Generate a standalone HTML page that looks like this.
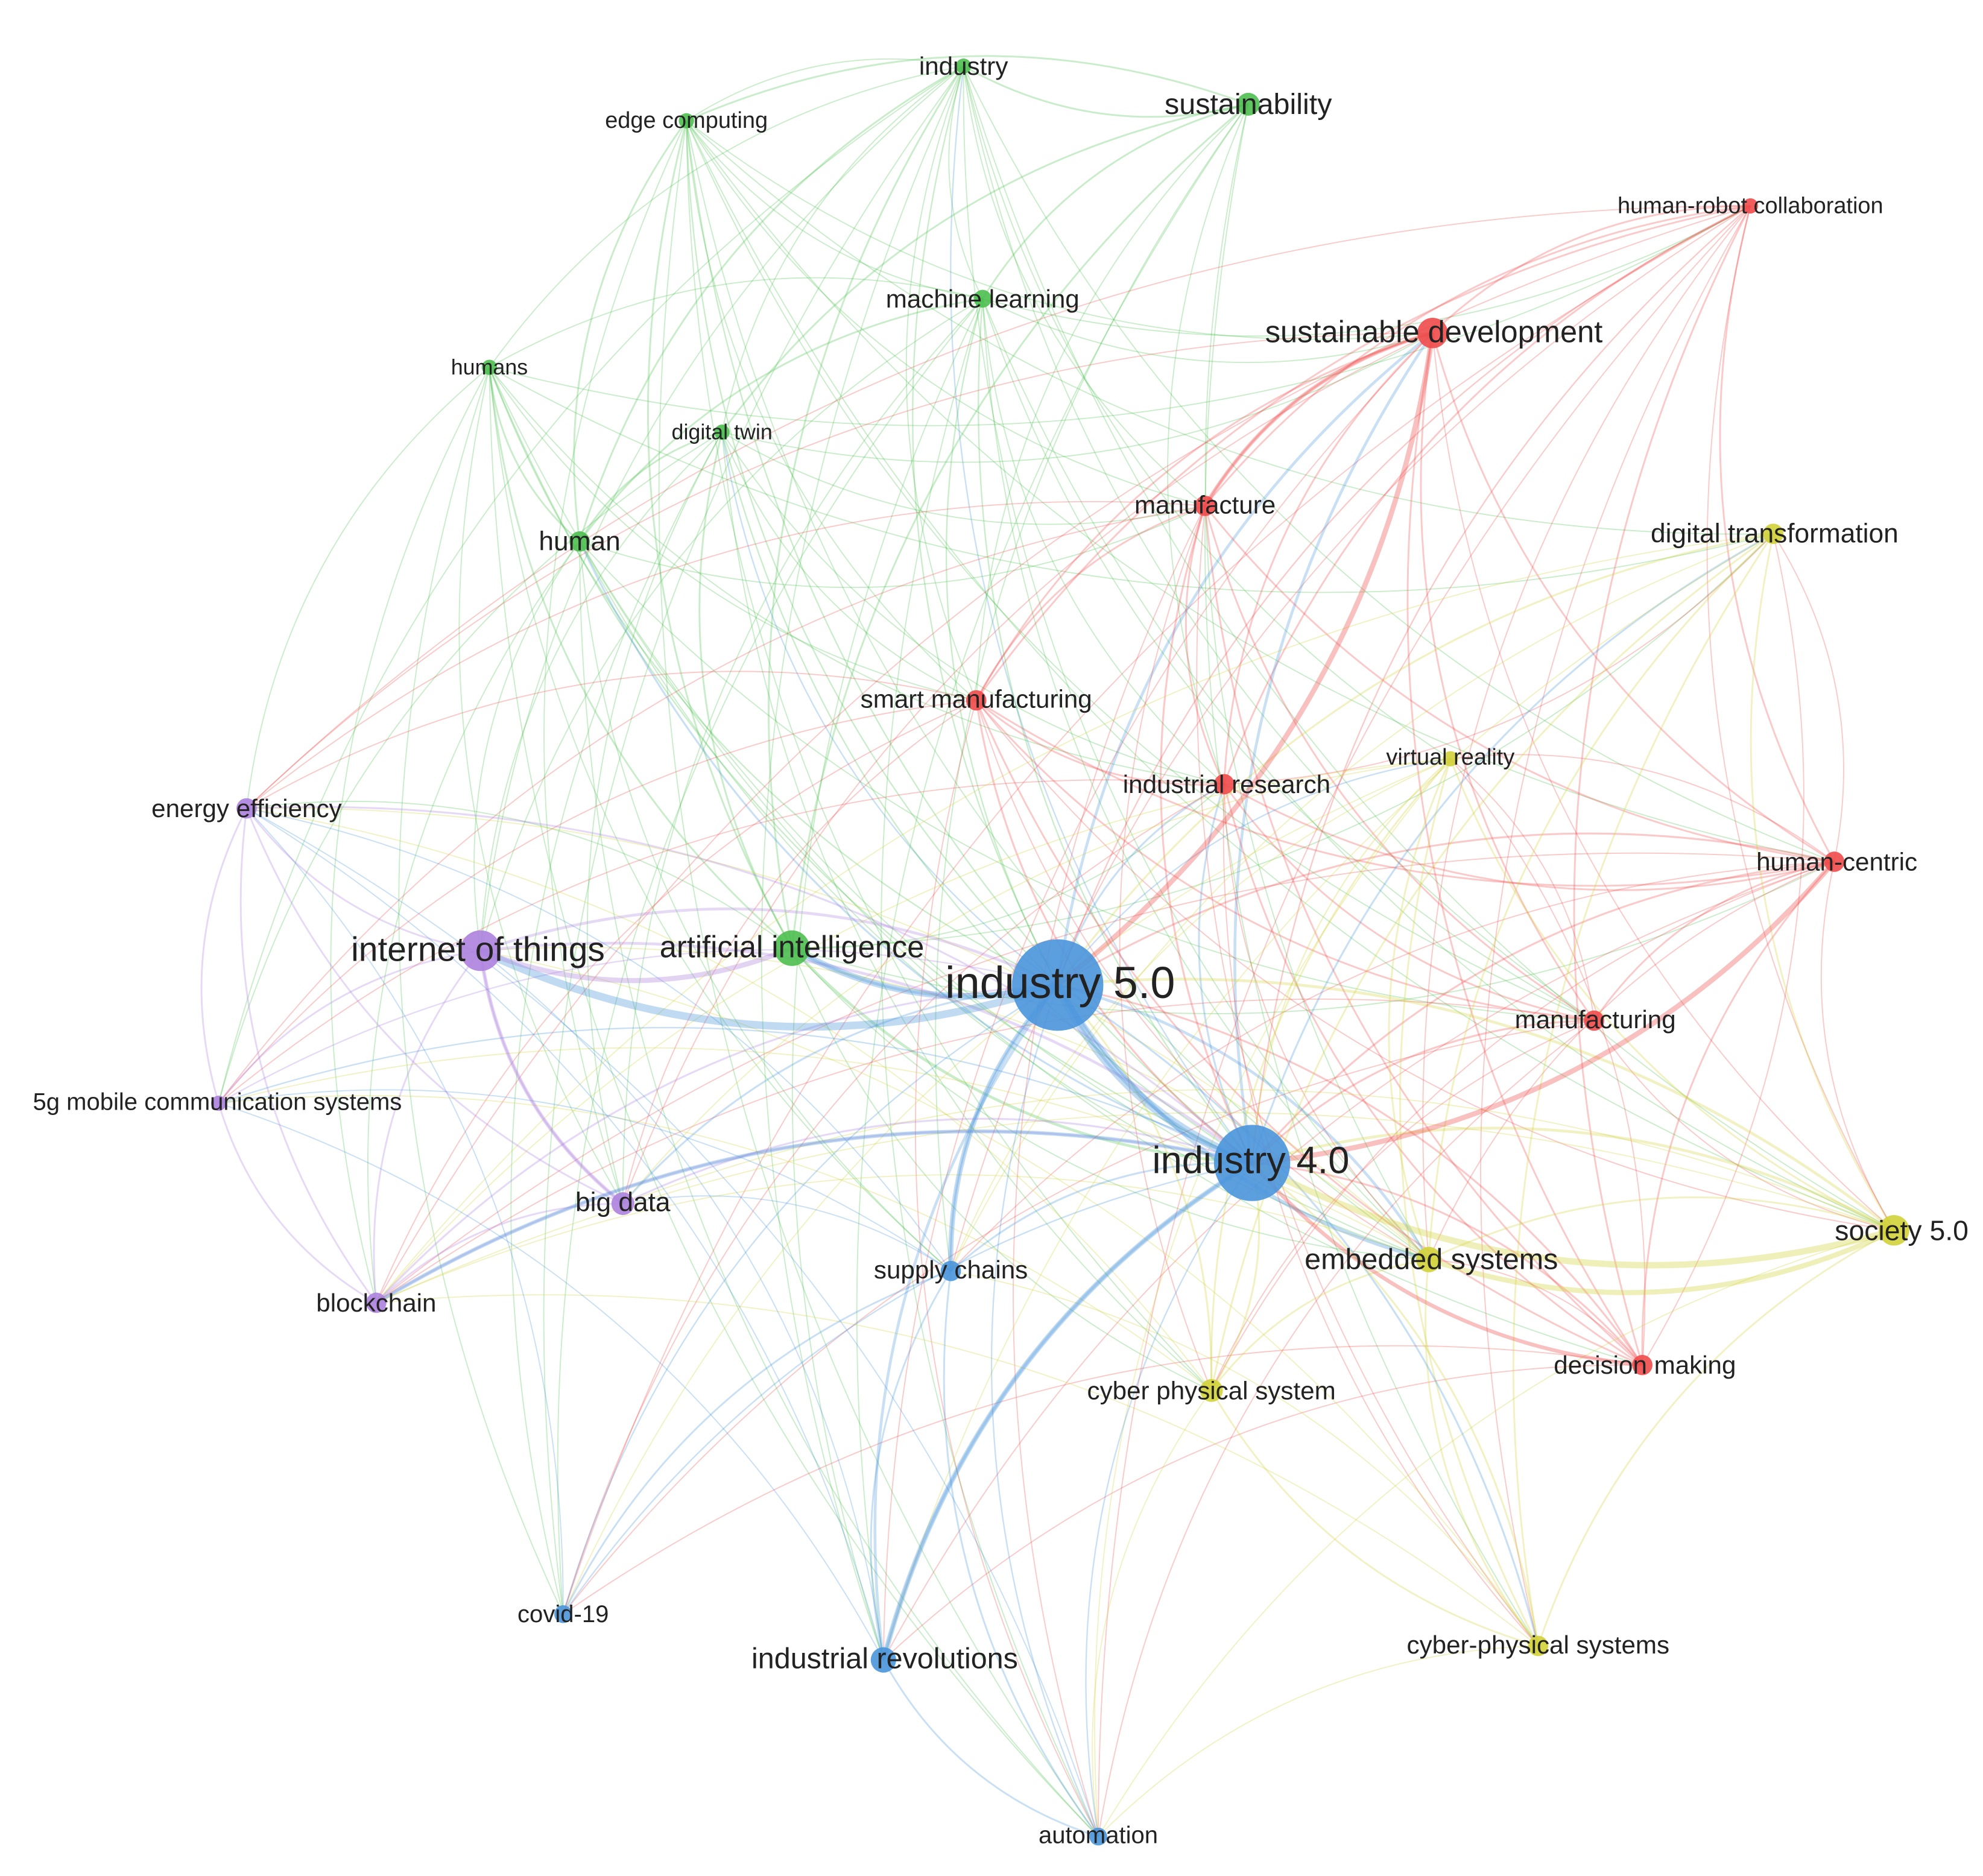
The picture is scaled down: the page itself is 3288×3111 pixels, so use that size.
<!DOCTYPE html>
<html><head><meta charset="utf-8">
<style>
html,body{margin:0;padding:0;background:#fff;}
svg{display:block;}
text{font-family:"Liberation Sans",sans-serif;fill:#222;text-anchor:middle;dominant-baseline:central;}
</style></head>
<body>
<svg id="s" width="3288" height="3111" viewBox="0 0 1560 1476" xmlns="http://www.w3.org/2000/svg">
<rect width="1560" height="1476" fill="#fff"/>
<g id="edges" fill="none"></g>
<g id="nodes"></g>
<g id="labels">
<text x="758" y="52" font-size="20">industry</text>
<text x="982" y="82" font-size="23">sustainability</text>
<text x="540" y="95" font-size="18">edge computing</text>
<text x="773" y="235" font-size="20">machine learning</text>
<text x="385" y="289" font-size="17">humans</text>
<text x="568" y="340" font-size="17">digital twin</text>
<text x="456" y="426" font-size="21">human</text>
<text x="623" y="745" font-size="24">artificial intelligence</text>
<text x="1377" y="162" font-size="18">human-robot collaboration</text>
<text x="1128" y="261" font-size="24">sustainable development</text>
<text x="948" y="397" font-size="20">manufacture</text>
<text x="768" y="550" font-size="20">smart manufacturing</text>
<text x="965" y="617" font-size="20">industrial research</text>
<text x="1445" y="678" font-size="20">human-centric</text>
<text x="1255" y="802" font-size="20">manufacturing</text>
<text x="1294" y="1074" font-size="20">decision making</text>
<text x="1396" y="420" font-size="21">digital transformation</text>
<text x="1141" y="596" font-size="18">virtual reality</text>
<text x="1496" y="968" font-size="22">society 5.0</text>
<text x="1126" y="991" font-size="23">embedded systems</text>
<text x="953" y="1094" font-size="20">cyber physical system</text>
<text x="1210" y="1294" font-size="20">cyber-physical systems</text>
<text x="834" y="773" font-size="35">industry 5.0</text>
<text x="984" y="913" font-size="30">industry 4.0</text>
<text x="748" y="999" font-size="20">supply chains</text>
<text x="443" y="1270" font-size="19">covid-19</text>
<text x="696" y="1305" font-size="23">industrial revolutions</text>
<text x="864" y="1444" font-size="19">automation</text>
<text x="194" y="636" font-size="20">energy efficiency</text>
<text x="376" y="747" font-size="27">internet of things</text>
<text x="171" y="867" font-size="19">5g mobile communication systems</text>
<text x="490" y="946" font-size="21">big data</text>
<text x="296" y="1025" font-size="20">blockchain</text>
</g>
</svg>
<script>
var C={g:"#4cbf4f",r:"#ef4b4b",y:"#d2d23a",b:"#4a95db",p:"#ad82de"};
var N=[
[758,52,6,"g"],[982,82,9,"g"],[540,95,6,"g"],[773,235,7,"g"],[385,289,6,"g"],[568,340,6,"g"],[456,426,8,"g"],[623,746,14,"g"],
[1377,162,6,"r"],[1127,262,12,"r"],[948,398,8,"r"],[768,551,8,"r"],[963,617,8,"r"],[1443,678,8,"r"],[1254,803,8,"r"],[1292,1074,8,"r"],
[1395,420,8,"y"],[1141,597,6,"y"],[1490,968,12,"y"],[1124,991,10,"y"],[953,1094,9,"y"],[1210,1295,8,"y"],
[832,775,36,"b"],[985,915,30,"b"],[748,1000,8,"b"],[443,1270,7,"b"],[695,1306,10,"b"],[864,1445,7,"b"],
[194,636,8,"p"],[378,748,16,"p"],[172,868,6,"p"],[490,947,9,"p"],[296,1025,8,"p"]];
var E=document.getElementById("edges"),h="";
var seed=11;function rnd(){seed=(seed*16807)%2147483647;return seed/2147483647;}
function edge(a,b,col,w,op){
 var dx=b[0]-a[0],dy=b[1]-a[1];
 var mx=(a[0]+b[0])/2-dy*0.2,my=(a[1]+b[1])/2+dx*0.2;
 h+='<path d="M'+a[0]+' '+a[1]+' Q'+mx.toFixed(1)+' '+my.toFixed(1)+' '+b[0]+' '+b[1]+'" stroke="'+col+'" stroke-width="'+w+'" stroke-opacity="'+op+'"/>';
}
for(var i=0;i<N.length;i++)for(var j=i+1;j<N.length;j++){
 var a=N[i],b=N[j],hub=(a[2]>20||b[2]>20);
 var p=(a[3]==b[3])?0.9:(hub?0.8:0.4);
 if(rnd()>p)continue;
 var w=0.9;
 if(hub){var o=a[2]>20?b:a; w=o[2]>=10?2.2:(o[2]>=8?1.5:1.1);}
 else if(a[3]==b[3]&&(a[2]>=8||b[2]>=8)) w=1.4;
 var col;
 if(hub){var o2=a[2]>20?b:a; col=rnd()<0.45?C.b:C[o2[3]];} else col=C[a[3]];
 edge(a,b,col,w,0.3);
}
/* prominent thick links */
function T(i,j,c,w){edge(N[i],N[j],c,w,0.35);}
T(29,22,C.b,6);T(22,23,C.b,7);T(7,22,C.b,5);T(22,9,C.r,4);T(23,18,C.y,5);
T(23,26,C.b,4);T(22,24,C.b,4);T(29,7,C.p,4);T(29,31,C.p,3);T(23,13,C.r,4);
T(22,19,C.b,3);T(9,10,C.r,3);T(23,15,C.r,3);T(19,18,C.y,4);T(23,32,C.b,3);
E.innerHTML=h;
var g="";N.forEach(function(n){g+='<circle cx="'+n[0]+'" cy="'+n[1]+'" r="'+n[2]+'" fill="'+C[n[3]]+'" fill-opacity="0.9"/>';});
document.getElementById("nodes").innerHTML=g;
</script>
</body></html>
